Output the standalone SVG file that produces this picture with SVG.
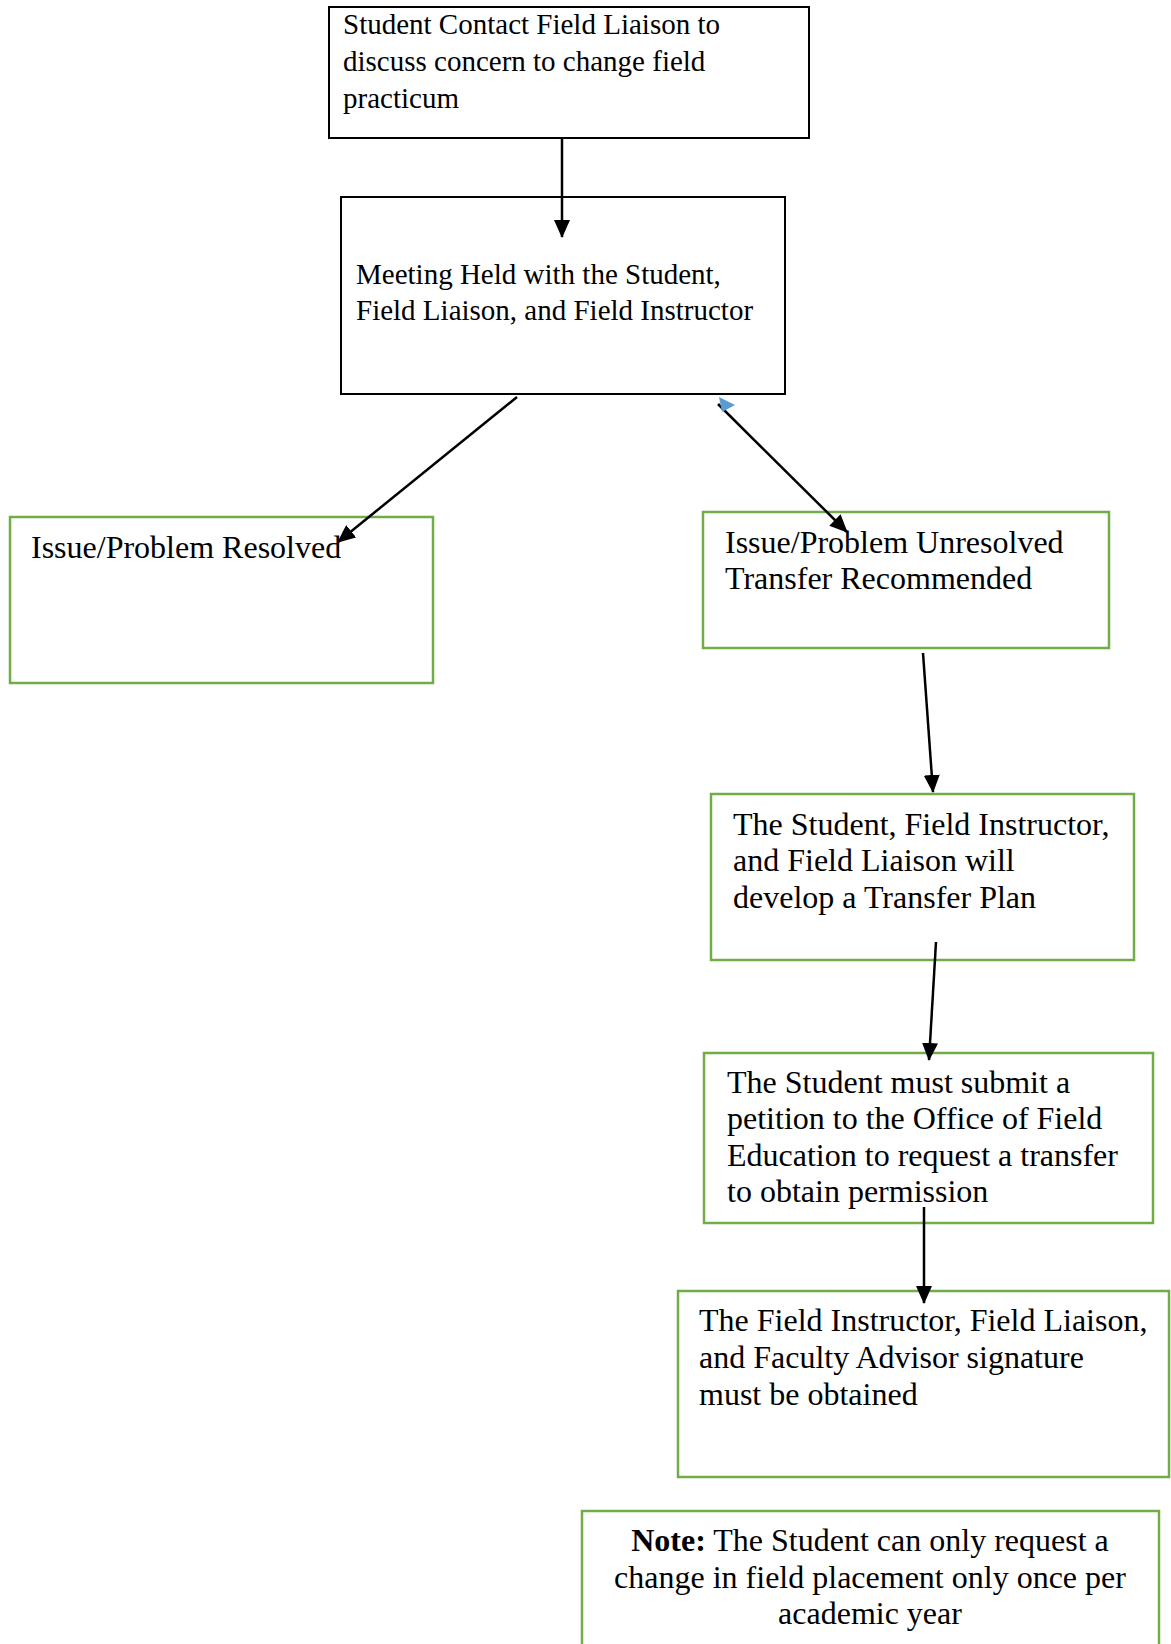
<svg xmlns="http://www.w3.org/2000/svg" width="1171" height="1644" viewBox="0 0 1171 1644">
<style>
  .t { font-family: "Liberation Serif", "Times New Roman", serif; fill: #000; }
  .s29 { font-size: 29px; }
  .s32 { font-size: 32px; }
  .bk { fill: #fff; stroke: #000; stroke-width: 2; }
  .gr { fill: #fff; stroke: #70AD47; stroke-width: 2.5; }
  .cn { stroke: #000; stroke-width: 2.5; fill: none; marker-end: url(#ah); }
</style>
<defs>
  <marker id="ah" markerUnits="userSpaceOnUse" markerWidth="18" markerHeight="16" refX="17" refY="8" orient="auto">
    <path d="M0,0 L18,8 L0,16 z" fill="#000"/>
  </marker>
</defs>
<rect width="1171" height="1644" fill="#fff"/>

<g id="n1">
  <rect class="bk" x="329" y="7" width="480" height="131"/>
  <text class="t s29"><tspan x="343" y="34">Student Contact Field Liaison to</tspan><tspan x="343" y="71">discuss concern to change field</tspan><tspan x="343" y="108">practicum</tspan></text>
</g>

<g id="n2">
  <rect class="bk" x="341" y="197" width="444" height="197"/>
  <text class="t s29"><tspan x="356" y="284">Meeting Held with the Student,</tspan><tspan x="356" y="320">Field Liaison, and Field Instructor</tspan></text>
</g>

<g id="n3">
  <rect class="gr" x="10" y="517" width="423" height="166"/>
  <text class="t s32" x="31" y="558">Issue/Problem Resolved</text>
</g>

<g id="n4">
  <rect class="gr" x="703" y="512" width="406" height="136"/>
  <text class="t s32"><tspan x="725" y="553">Issue/Problem Unresolved</tspan><tspan x="725" y="589">Transfer Recommended</tspan></text>
</g>

<g id="n5">
  <rect class="gr" x="711" y="794" width="423" height="166"/>
  <text class="t s32"><tspan x="733" y="835">The Student, Field Instructor,</tspan><tspan x="733" y="871">and Field Liaison will</tspan><tspan x="733" y="908">develop a Transfer Plan</tspan></text>
</g>

<g id="n6">
  <rect class="gr" x="704" y="1053" width="449" height="170"/>
  <text class="t s32"><tspan x="727" y="1093">The Student must submit a</tspan><tspan x="727" y="1129">petition to the Office of Field</tspan><tspan x="727" y="1166">Education to request a transfer</tspan><tspan x="727" y="1202">to obtain permission</tspan></text>
</g>

<g id="n7">
  <rect class="gr" x="678" y="1291" width="491" height="186"/>
  <text class="t s32"><tspan x="699" y="1331">The Field Instructor, Field Liaison,</tspan><tspan x="699" y="1368">and Faculty Advisor signature</tspan><tspan x="699" y="1405">must be obtained</tspan></text>
</g>

<g id="note">
  <rect class="gr" x="582" y="1511" width="577" height="160"/>
  <text class="t s32" text-anchor="middle"><tspan x="870" y="1551"><tspan font-weight="bold">Note:</tspan> The Student can only request a</tspan><tspan x="870" y="1588">change in field placement only once per</tspan><tspan x="870" y="1624">academic year</tspan></text>
</g>

<g id="connectors">
  <line class="cn" x1="562" y1="138" x2="562" y2="237"/>
  <line class="cn" x1="517" y1="397" x2="338" y2="542"/>
  <line class="cn" x1="718" y1="404" x2="847" y2="532"/>
  <polygon points="719,397 735,405 722,412" fill="#5B9BD5"/>
  <line class="cn" x1="923" y1="653" x2="933" y2="792"/>
  <line class="cn" x1="936" y1="942" x2="929" y2="1060"/>
  <line class="cn" x1="924" y1="1207" x2="924" y2="1303"/>
</g>
</svg>
